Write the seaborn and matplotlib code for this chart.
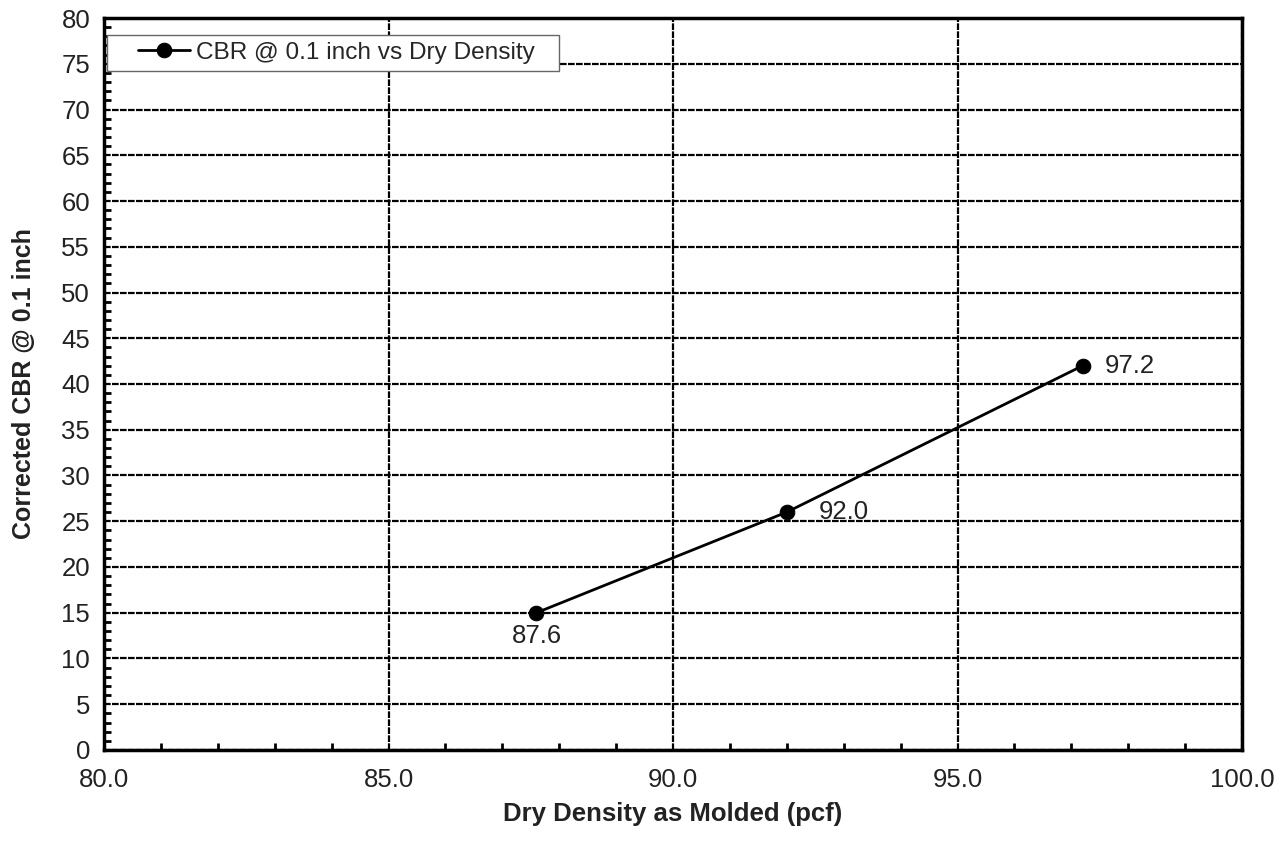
import matplotlib
matplotlib.use("Agg")
import matplotlib.pyplot as plt
from matplotlib.ticker import MultipleLocator, FormatStrFormatter
from matplotlib.legend_handler import HandlerLine2D
from matplotlib.patches import Rectangle
from matplotlib.transforms import IdentityTransform
import numpy as np
import seaborn as sns
import pandas as pd

# Test results
dry_density = [87.6, 92.0, 97.2]
cbr_values = [15, 26, 42]
point_labels = ["87.6", "92.0", "97.2"]
series_name = "CBR @ 0.1 inch vs Dry Density"

sns.set_theme(style="white")
plt.rcParams["font.family"] = ["Liberation Sans", "DejaVu Sans"]

df = pd.DataFrame({"density": dry_density, "cbr": cbr_values})


class IndentedLineHandler(HandlerLine2D):
    """Legend line sample that starts part-way into the handle box."""
    def __init__(self, indent=0.35, **kw):
        super().__init__(**kw)
        self.indent = indent

    def get_xdata(self, legend, xdescent, ydescent, width, height, fontsize):
        start = -xdescent + width * self.indent
        end = -xdescent + width
        return np.array([start, end]), np.array([(start + end) / 2])


fig = plt.figure(figsize=(12.86, 8.46), dpi=100)
ax = fig.add_axes([0.0809, 0.1135, 0.8849, 0.8652])

sns.lineplot(data=df, x="density", y="cbr", ax=ax, color="black", linewidth=2,
             marker="o", markersize=10.5, markeredgecolor="black", label=series_name)

# Value annotations next to each point
offsets = [(0, -17, "center", "center"), (23, 0, "left", "center"), (16, 0, "left", "center")]
for x, y, t, (dx, dy, ha, va) in zip(dry_density, cbr_values, point_labels, offsets):
    ax.annotate(t, (x, y), xytext=(dx, dy), textcoords="offset points",
                ha=ha, va=va, fontsize=18.5, color="#222222")

ax.set_xlim(80, 100)
ax.set_ylim(0, 80)
ax.xaxis.set_major_locator(MultipleLocator(5))
ax.xaxis.set_minor_locator(MultipleLocator(1))
ax.yaxis.set_major_locator(MultipleLocator(5))
ax.yaxis.set_minor_locator(MultipleLocator(1))
ax.xaxis.set_major_formatter(FormatStrFormatter("%.1f"))

ax.tick_params(axis="both", which="major", direction="in", length=0, labelsize=18.5,
               labelcolor="#222222")
ax.tick_params(axis="y", which="major", pad=10)
ax.tick_params(axis="x", which="major", pad=13)
ax.tick_params(axis="both", which="minor", direction="in", length=5, width=2, color="black")
ax.tick_params(bottom=True, left=True, which="minor")

ax.grid(True, which="major", color="black", linestyle=(0, (3, 0.6)), linewidth=1.6)
ax.set_axisbelow(True)
for s in ax.spines.values():
    s.set_color("black")
    s.set_linewidth(2.5)

ax.set_xlabel("Dry Density as Molded (pcf)", fontsize=18.5, fontweight="bold",
              color="#222222", labelpad=7.5)
ax.set_ylabel("Corrected CBR @ 0.1 inch", fontsize=18, fontweight="bold",
              color="#222222", labelpad=18)

handles, labels = ax.get_legend_handles_labels()
leg = ax.legend(handles, labels, loc="upper left", bbox_to_anchor=(0.0026, 0.9740),
                borderaxespad=0, fontsize=17.6, frameon=False,
                handlelength=3.2, borderpad=0.2, handletextpad=0.25,
                handler_map={handles[0]: IndentedLineHandler(indent=0.33)})

# Legend box with a wider right margin than the text padding
fig.canvas.draw()
bb = leg.get_window_extent()
box = Rectangle((bb.x0, bb.y0 - 2), bb.width + 19, bb.height + 4,
                transform=IdentityTransform(), facecolor="white",
                edgecolor="#666666", linewidth=1, zorder=4.9, clip_on=False)
ax.add_artist(box)

fig.savefig("out.png", dpi=100)
